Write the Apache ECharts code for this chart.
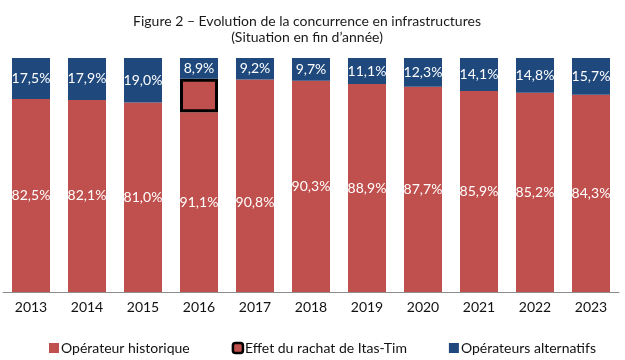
<!DOCTYPE html>
<html>
<head>
<meta charset="utf-8">
<script src="https://cdn.jsdelivr.net/npm/echarts@6/dist/echarts.min.js"></script>
<style>html,body{margin:0;padding:0;background:#fff;}#c{width:625px;height:360px;}</style>
</head>
<body>
<div id="c"></div>
<script>
const years = ['2013','2014','2015','2016','2017','2018','2019','2020','2021','2022','2023'];
const historique = [82.5, 82.1, 81.0, 76.8, 76.5, 90.3, 88.9, 87.7, 85.9, 85.2, 84.3];
const effetRachat = [null, null, null, 14.3, 14.3, null, null, null, null, null, null];
const alternatifs = [17.5, 17.9, 19.0, 8.9, 9.2, 9.7, 11.1, 12.3, 14.1, 14.8, 15.7];
const boxedYear = '2016';

const RED = '#C0504D', BLUE = '#1F497D';
const FONT = 'Lato';
const fmt = v => v.toFixed(1).replace('.', ',') + '%';

const chart = echarts.init(document.getElementById('c'), null, {renderer: 'canvas'});
chart.setOption({
  animation: false,
  textStyle: {fontFamily: FONT},
  title: {
    text: 'Figure 2 – Evolution de la concurrence en infrastructures\n(Situation en fin d\u2019année)',
    left: 302, top: 8,
    textAlign: 'center',
    textStyle: {fontFamily: FONT, fontSize: 14, fontWeight: 'normal', color: '#1a1a1a', lineHeight: 16, align: 'center'}
  },
  legend: {
    top: 336, left: 44, itemGap: 42, itemWidth: 10, itemHeight: 10,
    textStyle: {fontFamily: FONT, fontSize: 14, color: '#111', padding: [0, 0, 0, -3]},
    data: [
      {name: 'Opérateur historique', icon: 'rect', itemStyle: {color: RED}},
      {name: 'Effet du rachat de Itas-Tim', icon: 'roundRect', itemStyle: {color: RED, borderColor: '#000', borderWidth: 2.5}},
      {name: 'Opérateurs alternatifs', icon: 'rect', itemStyle: {color: BLUE}}
    ]
  },
  grid: {left: 3, right: 6, top: 58, bottom: 68, containLabel: false},
  xAxis: {
    type: 'category', data: years,
    axisLine: {lineStyle: {color: '#8c8c8c', width: 1}},
    axisTick: {length: 5, lineStyle: {color: '#8c8c8c'}},
    axisLabel: {fontFamily: FONT, fontSize: 14, color: '#111', margin: 8}
  },
  yAxis: {type: 'value', min: 0, max: 100, show: false, splitLine: {show: false}},
  series: [
    {
      name: 'Opérateur historique', type: 'bar', stack: 's', barWidth: 38,
      itemStyle: {color: RED},
      label: {
        show: true, position: 'inside', color: '#fff', fontFamily: FONT, fontSize: 14,
        formatter: p => fmt(historique[p.dataIndex] + (effetRachat[p.dataIndex] || 0))
      },
      data: historique
    },
    {
      name: 'Effet du rachat de Itas-Tim', type: 'bar', stack: 's', barWidth: 38,
      itemStyle: {color: RED},
      data: effetRachat.map((v, i) => years[i] === boxedYear
        ? {value: v, itemStyle: {color: RED, borderColor: '#000', borderWidth: 3}}
        : v)
    },
    {
      name: 'Opérateurs alternatifs', type: 'bar', stack: 's', barWidth: 38,
      itemStyle: {color: BLUE},
      label: {show: true, position: 'inside', color: '#fff', fontFamily: FONT, fontSize: 14,
        formatter: p => fmt(p.value)},
      data: alternatifs
    }
  ]
});
</script>
</body>
</html>
